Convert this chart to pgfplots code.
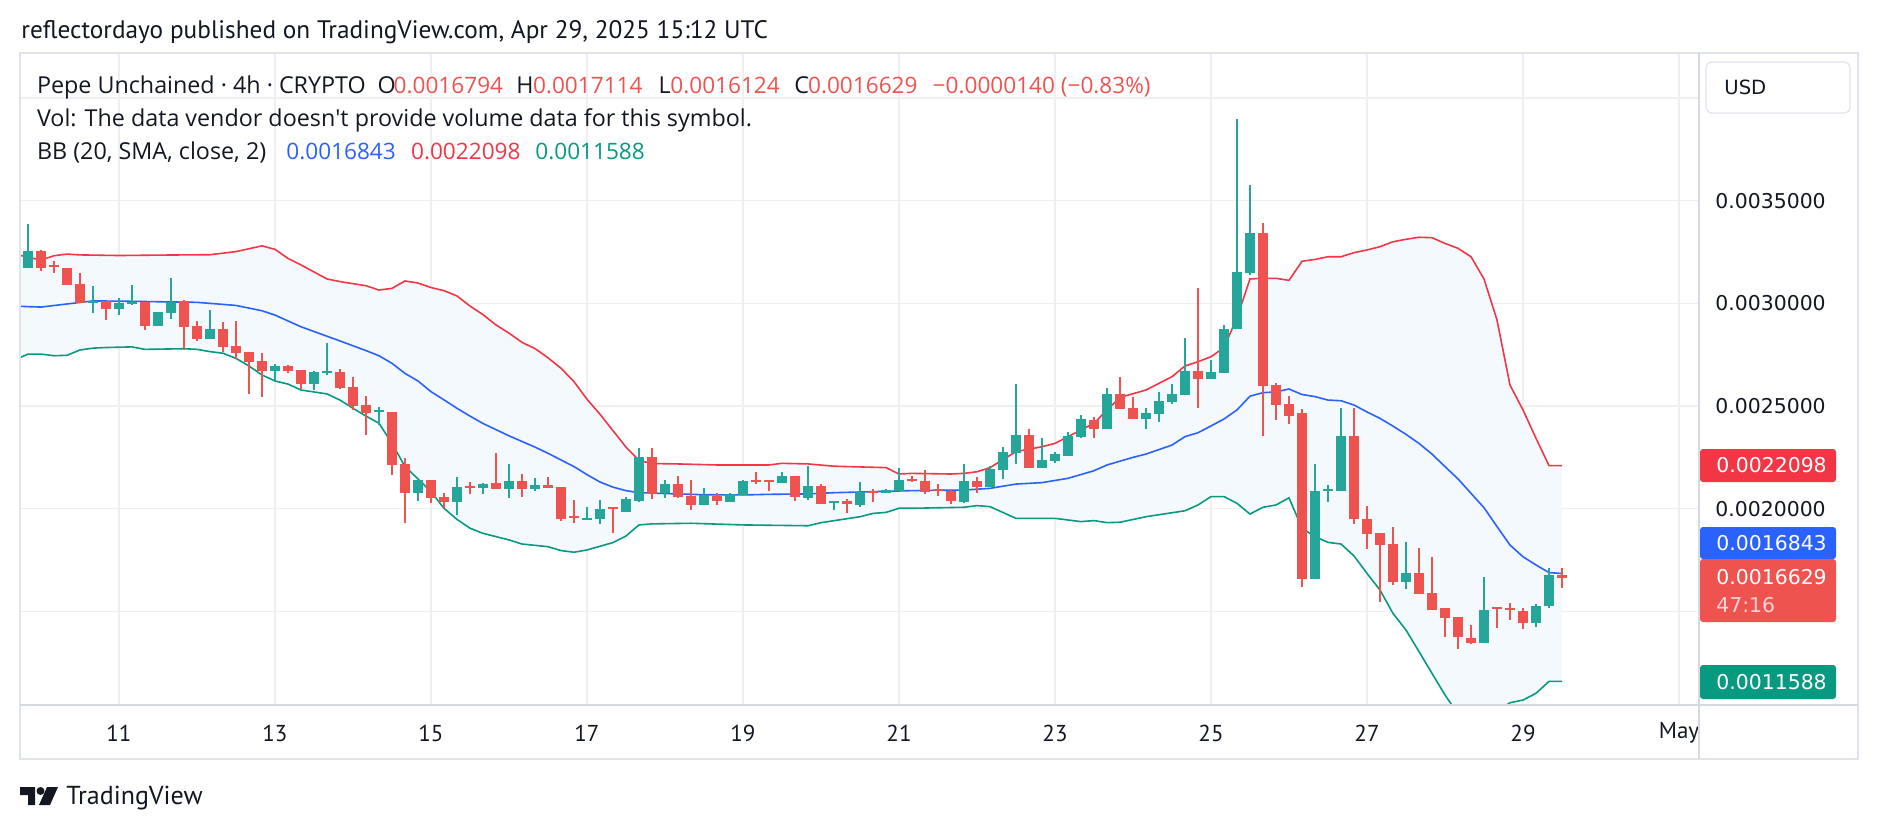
\documentclass[border=0pt]{standalone}
\usepackage{pgfplots}
\pgfplotsset{compat=1.18}
\usepackage{pgfplotstable}
\usepgfplotslibrary{fillbetween}
\usepackage{fontspec}
\setmainfont{PT Sans}
\newfontfamily\dejavu{DejaVu Sans}
\newfontfamily\osans{Open Sans}
\definecolor{cup}{HTML}{26A69A}
\definecolor{cdown}{HTML}{EF5350}
\definecolor{bbup}{HTML}{F23645}
\definecolor{bbmid}{HTML}{2962FF}
\definecolor{bblow}{HTML}{089981}
\definecolor{bbfill}{HTML}{F4F9FE}
\definecolor{gridc}{HTML}{EDEFF3}
\definecolor{framec}{HTML}{E0E3EB}
\definecolor{sepc}{HTML}{D6D9E0}
\definecolor{txt}{HTML}{131722}

% candle index i: time = Apr 9 20:00 UTC + 4h * i ; prices in units of 0.001 USD
% rising candles (close >= open)
\pgfplotstableread{
i O H L C
0 3.174 3.387 3.174 3.255
5 3.003 3.085 2.952 3.013
7 2.974 3.026 2.945 3.000
8 2.998 3.088 2.994 3.005
10 2.892 2.956 2.892 2.956
11 2.955 3.124 2.925 3.008
14 2.826 2.968 2.826 2.874
19 2.672 2.705 2.624 2.695
22 2.609 2.671 2.578 2.666
23 2.660 2.807 2.653 2.669
27 2.469 2.495 2.408 2.478
30 2.075 2.140 2.039 2.140
33 2.034 2.154 1.971 2.104
35 2.099 2.127 2.070 2.120
37 2.098 2.216 2.054 2.135
39 2.094 2.148 2.088 2.114
43 1.943 2.007 1.943 1.953
44 1.951 2.041 1.926 1.997
46 1.986 2.057 1.986 2.046
47 2.038 2.296 2.034 2.250
49 2.075 2.138 2.054 2.119
52 2.020 2.102 2.020 2.067
54 2.034 2.078 2.034 2.072
55 2.068 2.140 2.068 2.135
58 2.125 2.179 2.125 2.158
60 2.054 2.210 2.041 2.112
62 2.026 2.038 1.995 2.038
64 2.020 2.130 2.010 2.083
66 2.075 2.098 2.075 2.093
67 2.086 2.198 2.086 2.140
72 2.034 2.218 2.029 2.135
74 2.104 2.210 2.104 2.193
75 2.188 2.300 2.143 2.276
76 2.273 2.607 2.218 2.359
78 2.200 2.344 2.200 2.237
79 2.234 2.275 2.224 2.266
80 2.258 2.375 2.258 2.354
81 2.349 2.455 2.346 2.437
83 2.390 2.586 2.386 2.557
86 2.438 2.489 2.390 2.466
87 2.463 2.568 2.422 2.525
88 2.520 2.607 2.512 2.559
89 2.554 2.831 2.554 2.672
91 2.632 2.724 2.632 2.666
92 2.662 2.893 2.662 2.873
93 2.873 3.898 2.873 3.151
94 3.146 3.576 3.138 3.343
99 1.658 2.218 1.658 2.086
100 2.086 2.115 2.034 2.096
101 2.088 2.490 2.088 2.354
106 1.645 1.836 1.609 1.687
112 1.348 1.667 1.348 1.507
116 1.445 1.534 1.426 1.526
117 1.524 1.710 1.518 1.675
}\upc

% falling candles (close < open)
\pgfplotstableread{
i O H L C
1 3.255 3.260 3.159 3.174
2 3.180 3.206 3.150 3.176
3 3.171 3.171 3.091 3.091
4 3.094 3.148 3.003 3.003
6 3.013 3.013 2.919 2.974
9 3.005 3.005 2.870 2.892
12 3.013 3.015 2.773 2.887
13 2.890 2.913 2.817 2.826
15 2.875 2.907 2.763 2.789
16 2.792 2.913 2.727 2.760
17 2.763 2.763 2.560 2.716
18 2.719 2.758 2.546 2.671
20 2.695 2.700 2.663 2.672
21 2.674 2.674 2.581 2.609
24 2.664 2.679 2.583 2.589
25 2.593 2.641 2.481 2.500
26 2.505 2.549 2.359 2.468
28 2.471 2.471 2.164 2.213
29 2.218 2.247 1.932 2.078
31 2.140 2.140 2.026 2.054
32 2.055 2.075 2.002 2.034
34 2.108 2.128 2.070 2.101
36 2.125 2.270 2.098 2.098
38 2.135 2.169 2.059 2.098
40 2.114 2.153 2.102 2.102
41 2.104 2.104 1.942 1.950
42 1.959 2.041 1.932 1.953
45 2.002 2.002 1.883 1.997
48 2.252 2.296 2.049 2.072
50 2.120 2.159 2.052 2.055
51 2.062 2.140 1.995 2.020
53 2.062 2.075 2.020 2.039
56 2.138 2.179 2.120 2.128
57 2.133 2.133 2.088 2.128
59 2.159 2.159 2.039 2.059
61 2.112 2.120 2.021 2.025
63 2.038 2.046 1.981 2.021
65 2.083 2.096 2.034 2.075
68 2.144 2.159 2.132 2.136
69 2.135 2.188 2.070 2.083
70 2.091 2.120 2.062 2.086
71 2.086 2.096 2.021 2.038
73 2.135 2.153 2.078 2.107
77 2.359 2.388 2.200 2.200
82 2.432 2.448 2.346 2.390
84 2.557 2.640 2.487 2.487
85 2.490 2.544 2.435 2.438
90 2.672 3.075 2.492 2.632
95 3.343 3.390 2.356 2.599
96 2.601 2.611 2.432 2.505
97 2.510 2.549 2.412 2.453
98 2.468 2.484 1.617 1.658
102 2.354 2.490 1.926 1.952
103 1.948 2.013 1.804 1.877
104 1.882 1.882 1.547 1.825
105 1.828 1.911 1.628 1.641
107 1.687 1.807 1.583 1.583
108 1.591 1.765 1.507 1.507
109 1.515 1.515 1.374 1.469
110 1.474 1.474 1.315 1.374
111 1.369 1.434 1.340 1.348
113 1.516 1.523 1.421 1.510
114 1.513 1.542 1.458 1.507
115 1.502 1.518 1.413 1.442
118 1.6794 1.7114 1.6124 1.6629
}\dnc

\pgfplotstableread{
i v
-1 3.240
0 3.225
1 3.211
2 3.232
3 3.240
4 3.236
7 3.233
10 3.235
14 3.237
16 3.252
18 3.280
19 3.263
20 3.219
21 3.187
23 3.119
24 3.106
26 3.086
27 3.065
28 3.073
29 3.109
30 3.099
31 3.077
32 3.062
33 3.036
34 2.987
35 2.945
36 2.895
37 2.855
38 2.810
39 2.780
40 2.735
41 2.684
42 2.619
43 2.533
44 2.460
45 2.380
46 2.300
47 2.235
48 2.220
50 2.218
53 2.213
57 2.213
58 2.221
60 2.218
62 2.207
66 2.200
67 2.169
68 2.172
71 2.169
72 2.172
73 2.180
74 2.200
76 2.278
78 2.302
79 2.318
80 2.351
82 2.416
83 2.481
84 2.542
86 2.578
88 2.643
89 2.695
90 2.716
91 2.740
92 2.785
93 2.930
94 3.119
95 3.122
96 3.122
97 3.112
98 3.205
99 3.214
100 3.227
101 3.227
102 3.247
103 3.260
104 3.276
105 3.300
106 3.312
107 3.322
108 3.320
109 3.292
110 3.268
111 3.227
112 3.119
113 2.919
114 2.602
115 2.481
116 2.343
117 2.2098
118 2.2098
}\upperband

\pgfplotstableread{
i v
-1 2.987
0 2.984
1 2.982
3 2.997
5 3.012
8 3.010
13 3.005
16 2.990
18 2.964
19 2.943
21 2.886
23 2.840
24 2.817
26 2.770
27 2.745
28 2.708
29 2.659
30 2.622
31 2.570
32 2.530
33 2.489
34 2.451
35 2.415
37 2.355
39 2.300
40 2.270
42 2.205
43 2.166
44 2.130
45 2.105
46 2.088
47 2.078
50 2.072
52 2.068
55 2.067
57 2.070
60 2.072
62 2.078
65 2.083
68 2.088
72 2.091
74 2.099
76 2.120
78 2.127
80 2.148
82 2.185
83 2.213
85 2.250
86 2.266
88 2.310
89 2.351
90 2.370
91 2.403
92 2.437
93 2.481
94 2.548
95 2.565
96 2.569
97 2.583
98 2.556
99 2.546
100 2.529
101 2.526
102 2.505
103 2.471
104 2.440
105 2.402
106 2.362
107 2.318
108 2.266
109 2.205
110 2.145
111 2.075
112 2.005
113 1.913
114 1.823
115 1.766
116 1.726
117 1.689
118 1.6843
}\midband

\pgfplotstableread{
i v
-1 2.725
0 2.753
1 2.753
2 2.745
3 2.747
4 2.773
5 2.782
6 2.785
8 2.788
9 2.776
12 2.779
13 2.776
14 2.765
15 2.757
16 2.732
17 2.695
18 2.651
19 2.622
20 2.607
21 2.578
23 2.559
24 2.529
25 2.489
26 2.451
27 2.416
28 2.318
29 2.205
30 2.145
31 2.083
32 2.002
33 1.948
34 1.905
35 1.880
37 1.848
38 1.828
40 1.815
41 1.796
42 1.788
43 1.799
45 1.835
46 1.867
47 1.921
48 1.926
51 1.929
55 1.921
60 1.917
61 1.932
64 1.961
65 1.977
66 1.982
67 2.002
68 2.002
72 2.007
73 2.015
74 2.010
76 1.953
79 1.953
81 1.937
82 1.942
83 1.932
84 1.934
86 1.961
89 1.990
90 2.018
91 2.059
92 2.059
93 2.026
94 1.974
95 2.007
96 2.018
97 2.053
98 1.905
99 1.864
100 1.836
101 1.828
102 1.770
103 1.685
104 1.604
105 1.490
106 1.409
107 1.304
108 1.198
109 1.093
110 1.000
111 0.965
112 0.975
113 1.010
114 1.055
115 1.068
116 1.101
117 1.1588
118 1.1588
}\lowerband

\tikzset{lg/.style={anchor=base west, inner sep=0pt, text=txt, font=\osans\fontsize{11.65}{14}\selectfont},
  lv/.style={anchor=base west, inner sep=0pt, font=\osans\fontsize{11.3}{14}\selectfont}}

\begin{document}
\begin{tikzpicture}
\path (0,0) rectangle (939pt,-415pt);
\begin{axis}[
  at={(10pt,-352.5pt)}, anchor=south west,
  scale only axis, width=839.5pt, height=326pt,
  xmin=-0.615, xmax=128.54, ymin=1.044, ymax=4.2193,
  axis line style={draw=none},
  major tick length=0pt,
  xtick={7,19,31,43,55,67,79,91,103,115,127},
  xticklabels={11,13,15,17,19,21,23,25,27,29,May},
  xticklabel style={anchor=center, yshift=-14pt, inner sep=0pt, font=\fontsize{11.5}{13}\selectfont, text=txt},
  ytick={1.5,2,2.5,3,3.5,4},
  yticklabels={,0.0020000,0.0025000,0.0030000,0.0035000,},
  yticklabel pos=right,
  yticklabel style={anchor=west, xshift=8pt, inner sep=0pt, font=\dejavu\fontsize{10.2}{12}\selectfont, text=txt},
  grid=major, major grid style={draw=gridc, line width=0.6pt},
]
\addplot[name path=up, draw=none, forget plot] table[x=i, y=v] {\upperband};
\addplot[name path=lo, draw=none, forget plot] table[x=i, y=v] {\lowerband};
\addplot[bbfill, forget plot] fill between[of=up and lo];
\addplot[bbup, line width=0.8pt, forget plot] table[x=i, y=v] {\upperband};
\addplot[bbmid, line width=0.8pt, forget plot] table[x=i, y=v] {\midband};
\addplot[bblow, line width=0.8pt, forget plot] table[x=i, y=v] {\lowerband};
% wicks (low to high) and bodies (open to close)
\addplot[cup, line width=0.7pt, mark=none, forget plot, -,
  quiver={u=0, v=\thisrow{H}-\thisrow{L}}]
  table[x=i, y=L] {\upc};
\addplot[cup, line width=5pt, mark=none, forget plot, -,
  quiver={u=0, v={max(\thisrow{C}-\thisrow{O},0.01)}}]
  table[x=i, y=O] {\upc};
\addplot[cdown, line width=0.7pt, mark=none, forget plot, -,
  quiver={u=0, v=\thisrow{H}-\thisrow{L}}]
  table[x=i, y=L] {\dnc};
\addplot[cdown, line width=5pt, mark=none, forget plot, -,
  quiver={u=0, v={max(\thisrow{O}-\thisrow{C},0.01)}}]
  table[x=i, y=C] {\dnc};
\end{axis}

\begin{scope}[x=0.5pt, y=-0.5pt]
% frame and separators
\draw[framec, line width=0.6pt] (20,53) rectangle (1858,759);
\draw[sepc, line width=0.8pt] (1699,53) -- (1699,759);
\draw[sepc, line width=0.8pt] (20,705) -- (1858,705);
% header
\node[anchor=base west, inner sep=0pt, text=txt, font=\fontsize{12.65}{15}\selectfont] at (21,38)
  {reflectordayo published on TradingView.com, Apr 29, 2025 15:12 UTC};
% legend, line 1
\node[lg] at (36.7,93) {Pepe Unchained · 4h · CRYPTO};
\node[lg] at (377.3,93) {O};
\node[lv, text=cdown] at (393.3,93) {0.0016794};
\node[lg] at (516,93) {H};
\node[lv, text=cdown] at (532.7,93) {0.0017114};
\node[lg] at (658.3,93) {L};
\node[lv, text=cdown] at (670,93) {0.0016124};
\node[lg] at (794,93) {C};
\node[lv, text=cdown] at (807.7,93) {0.0016629};
\node[lv, text=cdown] at (932.3,93) {−0.0000140 (−0.83\%)};
% line 2
\node[lg] at (36.7,126) {Vol: The data vendor doesn\textquotesingle t provide volume data for this symbol.};
% line 3
\node[lg] at (36.7,159.3) {BB (20, SMA, close, 2)};
\node[lv, text=bbmid] at (286,159.3) {0.0016843};
\node[lv, text=bbup] at (410.7,159.3) {0.0022098};
\node[lv, text=bblow] at (535,159.3) {0.0011588};
% USD box
\draw[framec, fill=white, rounded corners=3pt, line width=0.6pt] (1706,62) rectangle (1850,113);
\node[anchor=west, inner sep=0pt, text=txt, font=\dejavu\fontsize{9.8}{12}\selectfont] at (1724,87.5) {USD};
% price labels
\fill[bbup, rounded corners=1.5pt] (1700,449) rectangle (1836,482);
\node[anchor=west, inner sep=0pt, text=white, font=\dejavu\fontsize{10.2}{12}\selectfont] at (1716,465.5) {0.0022098};
\fill[bbmid, rounded corners=1.5pt] (1700,527) rectangle (1836,559);
\node[anchor=west, inner sep=0pt, text=white, font=\dejavu\fontsize{10.2}{12}\selectfont] at (1716,543) {0.0016843};
\fill[cdown, rounded corners=1.5pt] (1700,559) rectangle (1836,622);
\node[anchor=west, inner sep=0pt, text=white, font=\dejavu\fontsize{10.2}{12}\selectfont] at (1716,577) {0.0016629};
\node[anchor=west, inner sep=0pt, text=white!75!cdown, font=\dejavu\fontsize{10.2}{12}\selectfont] at (1716,605) {47:16};
\fill[bblow, rounded corners=1.5pt] (1700,665) rectangle (1836,699);
\node[anchor=west, inner sep=0pt, text=white, font=\dejavu\fontsize{10.2}{12}\selectfont] at (1716,682) {0.0011588};
% TradingView logo
\fill[txt] (20,787) -- (35,787) -- (35,805) -- (28,805) -- (28,795) -- (20,795) -- cycle;
\fill[txt] (40.5,791) circle (4);
\fill[txt] (47,787) -- (58,787) -- (50,805) -- (39,805) -- cycle;
\node[anchor=base west, inner sep=0pt, text=txt, font=\fontsize{13}{15}\selectfont] at (66,804) {TradingView};
\end{scope}
\end{tikzpicture}
\end{document}
